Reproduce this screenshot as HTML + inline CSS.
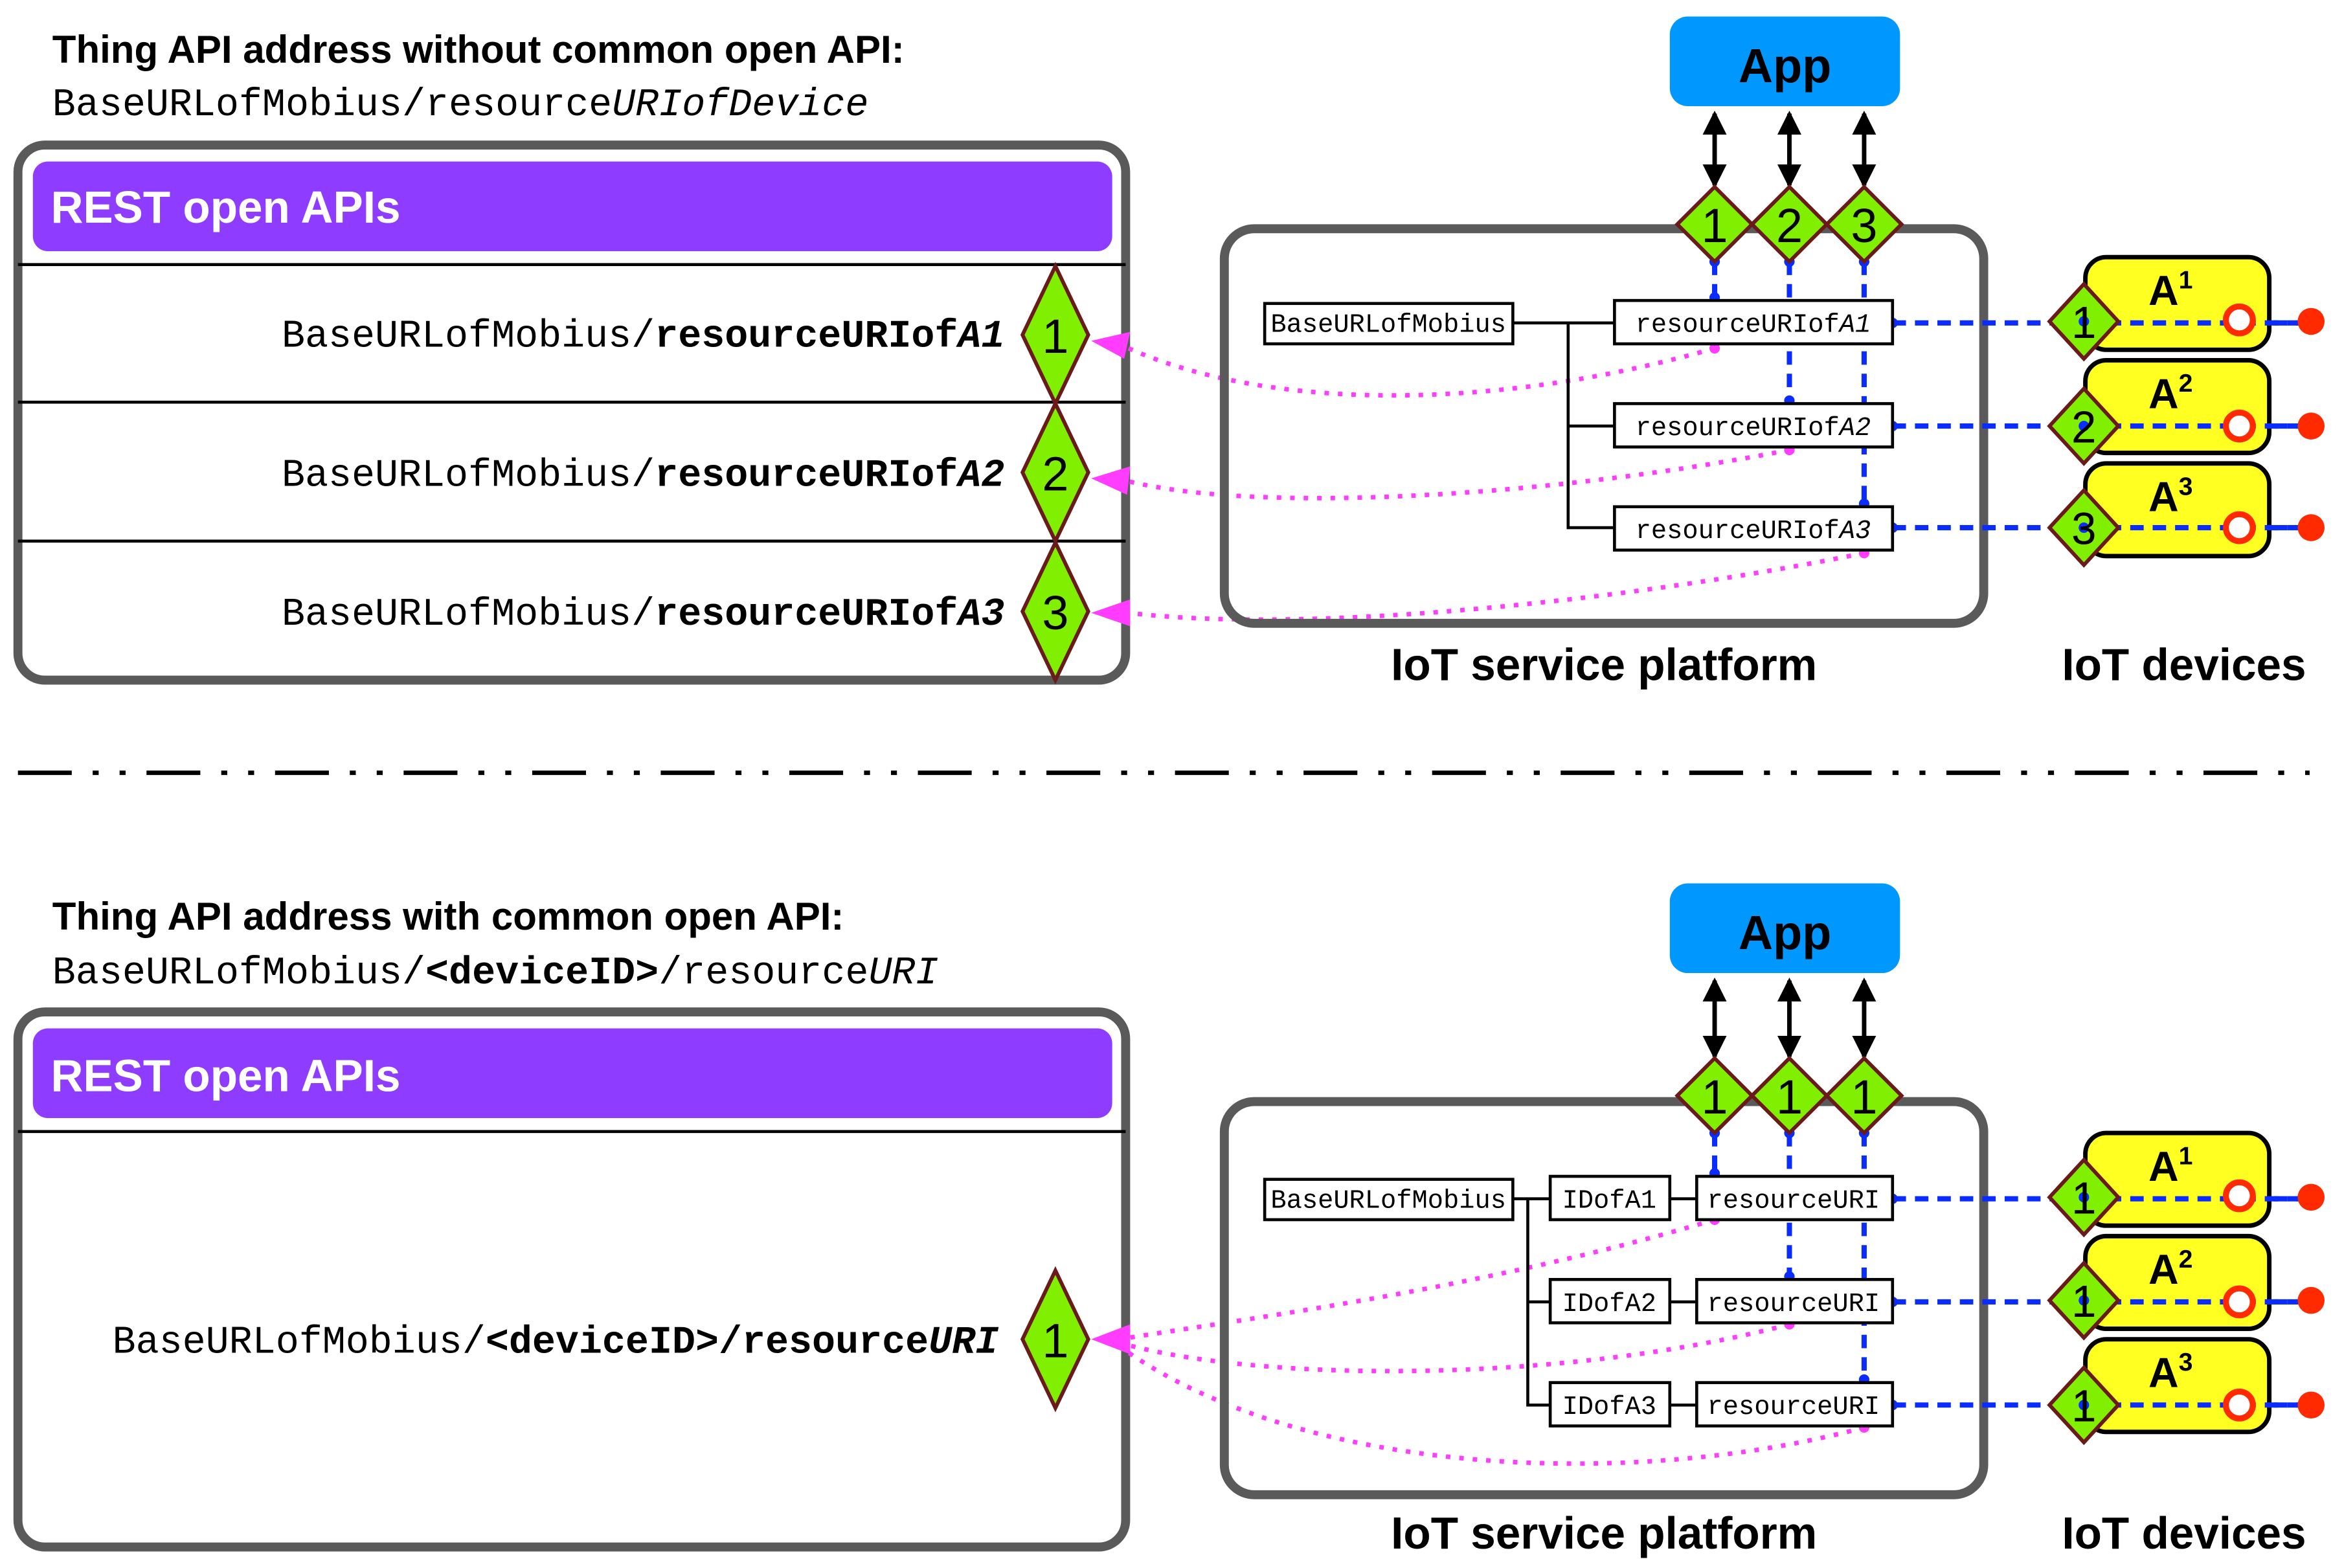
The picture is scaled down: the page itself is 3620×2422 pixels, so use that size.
<!DOCTYPE html>
<html><head><meta charset="utf-8"><style>
html,body{margin:0;padding:0;background:#fff}
svg{display:block}
.t{font-family:"Liberation Sans",sans-serif;font-weight:bold}
.m{font-family:"Liberation Mono",monospace}
</style></head><body>
<svg width="3620" height="2422" viewBox="0 0 1568 1049" xmlns="http://www.w3.org/2000/svg">
<defs>
<marker id="ka" markerWidth="16" markerHeight="16" refX="14" refY="8" orient="auto" markerUnits="userSpaceOnUse"><path d="M0,0 L16,8 L0,16 z" fill="#000"/></marker>
<marker id="kb" markerWidth="16" markerHeight="16" refX="2" refY="8" orient="auto" markerUnits="userSpaceOnUse"><path d="M16,0 L0,8 L16,16 z" fill="#000"/></marker>
</defs>

<g id="top">
<text x="35" y="42" class="t" font-size="26">Thing API address without common open API:</text>
<text x="35" y="77" class="m" font-size="26">BaseURLofMobius/resource<tspan font-style="italic">URIofDevice</tspan></text>
<rect x="12" y="97" width="741" height="358" rx="18" fill="none" stroke="#5a5a5a" stroke-width="6"/>
<rect x="22" y="108" width="722" height="60" rx="10" fill="#8e3cff"/>
<text x="34" y="149" class="t" font-size="30" fill="#fff">REST open APIs</text>
<line x1="12" y1="177" x2="753" y2="177" stroke="#000" stroke-width="2"/>
<line x1="12" y1="269" x2="753" y2="269" stroke="#000" stroke-width="2"/>
<line x1="12" y1="362" x2="753" y2="362" stroke="#000" stroke-width="2"/>
<text x="672" y="232" text-anchor="end" class="m" font-size="26">BaseURLofMobius/<tspan font-weight="bold">resourceURIof<tspan font-style="italic">A1</tspan></tspan></text>
<text x="672" y="325" text-anchor="end" class="m" font-size="26">BaseURLofMobius/<tspan font-weight="bold">resourceURIof<tspan font-style="italic">A2</tspan></tspan></text>
<text x="672" y="418" text-anchor="end" class="m" font-size="26">BaseURLofMobius/<tspan font-weight="bold">resourceURIof<tspan font-style="italic">A3</tspan></tspan></text>
</g>

<g id="bottom">
<text x="35" y="622" class="t" font-size="26">Thing API address with common open API:</text>
<text x="35" y="658" class="m" font-size="26">BaseURLofMobius/<tspan font-weight="bold">&lt;deviceID&gt;</tspan>/resource<tspan font-style="italic">URI</tspan></text>
<rect x="12" y="677" width="741" height="358" rx="18" fill="none" stroke="#5a5a5a" stroke-width="6"/>
<rect x="22" y="688" width="722" height="60" rx="10" fill="#8e3cff"/>
<text x="34" y="730" class="t" font-size="30" fill="#fff">REST open APIs</text>
<line x1="12" y1="757" x2="753" y2="757" stroke="#000" stroke-width="2"/>
<text x="668" y="905" text-anchor="end" class="m" font-size="26">BaseURLofMobius/<tspan font-weight="bold">&lt;deviceID&gt;/resource<tspan font-style="italic">URI</tspan></tspan></text>
</g>

<line x1="12" y1="517" x2="1545" y2="517" stroke="#000" stroke-width="3" stroke-dasharray="36,14,4,14,4,14"/>

<g fill="none" stroke="#ff3cff" stroke-width="3" stroke-dasharray="3,6">
<path d="M1147,233 C1000,275 850,275 755,233"/>
<path d="M1197,301 C1050,330 850,345 755,322"/>
<path d="M1247,370 C1100,400 880,425 755,410"/>
<path d="M1147,816 C1000,860 850,880 755,895"/>
<path d="M1197,886 C1050,925 850,925 755,900"/>
<path d="M1247,955 C1100,995 880,990 755,905"/>
</g>
<g fill="#ff3cff">
<path d="M730,228 L756,222 L752,240 z"/>
<path d="M730,320 L756,312 L754,331 z"/>
<path d="M730,410 L756,401 L756,419 z"/>
<path d="M730,896 L756,886 L756,906 z"/>
<circle cx="1147" cy="233" r="3.5"/><circle cx="1197" cy="301" r="3.5"/><circle cx="1247" cy="370" r="3.5"/>
<circle cx="1147" cy="816" r="3.5"/><circle cx="1197" cy="886" r="3.5"/><circle cx="1247" cy="955" r="3.5"/></g>

<g stroke="#6b1a1a" stroke-width="2.5" fill="#80f000">
<path d="M706,178 L728,224 L706,270 L684,224 z"/>
<path d="M706,270 L728,316 L706,362 L684,316 z"/>
<path d="M706,363 L728,409 L706,455 L684,409 z"/>
<path d="M706,850 L728,896 L706,942 L684,896 z"/>
</g>
<g font-family="Liberation Sans,sans-serif" font-size="32" text-anchor="middle">
<text x="706" y="236">1</text><text x="706" y="328">2</text><text x="706" y="421">3</text><text x="706" y="908">1</text>
</g>

<g id="plat1">
<rect x="819" y="153" width="508" height="264" rx="20" fill="none" stroke="#5a5a5a" stroke-width="6"/>
<rect x="1117" y="11" width="154" height="60" rx="12" fill="#0098ff"/>
<text x="1194" y="55" text-anchor="middle" class="t" font-size="32">App</text>
<g stroke="#000" stroke-width="3"><line x1="1147" y1="76" x2="1147" y2="124" marker-end="url(#ka)" marker-start="url(#kb)"/><line x1="1197" y1="76" x2="1197" y2="124" marker-end="url(#ka)" marker-start="url(#kb)"/><line x1="1247" y1="76" x2="1247" y2="124" marker-end="url(#ka)" marker-start="url(#kb)"/></g>
<g stroke="#0a2cff" stroke-width="3.5" stroke-dasharray="9,6" fill="none">
<line x1="1147" y1="175" x2="1147" y2="201"/><line x1="1197" y1="175" x2="1197" y2="270"/><line x1="1247" y1="175" x2="1247" y2="339"/>
<line x1="1266" y1="216" x2="1546" y2="216"/><line x1="1266" y1="285" x2="1546" y2="285"/><line x1="1266" y1="353" x2="1546" y2="353"/>
</g>
<g fill="#0a2cff"><circle cx="1147" cy="175" r="3.5"/><circle cx="1147" cy="199" r="3.5"/><circle cx="1197" cy="175" r="3.5"/><circle cx="1197" cy="268" r="3.5"/><circle cx="1247" cy="175" r="3.5"/><circle cx="1247" cy="337" r="3.5"/>
<circle cx="1266" cy="216" r="3.5"/><circle cx="1266" cy="285" r="3.5"/><circle cx="1266" cy="353" r="3.5"/></g>
<g stroke="#000" stroke-width="2" fill="none"><polyline points="1012,216 1080,216"/><polyline points="1049,216 1049,353 1080,353"/><line x1="1049" y1="285" x2="1080" y2="285"/></g>
<g stroke="#000" stroke-width="2" fill="#fff">
<rect x="846" y="203" width="166" height="27"/><rect x="1080" y="201" width="186" height="29"/><rect x="1080" y="270" width="186" height="29"/><rect x="1080" y="339" width="186" height="29"/></g>
<g class="m" font-size="17.5">
<text x="850" y="222">BaseURLofMobius</text>
<text x="1094" y="222">resourceURIof<tspan font-style="italic">A1</tspan></text>
<text x="1094" y="291">resourceURIof<tspan font-style="italic">A2</tspan></text>
<text x="1094" y="360">resourceURIof<tspan font-style="italic">A3</tspan></text></g>
<g stroke="#6b1a1a" stroke-width="2.5" fill="#80f000">
<path d="M1147,125 L1172,150 L1147,175 L1122,150 z"/><path d="M1197,125 L1222,150 L1197,175 L1172,150 z"/><path d="M1247,125 L1272,150 L1247,175 L1222,150 z"/></g>
<g font-family="Liberation Sans,sans-serif" font-size="32" text-anchor="middle"><text x="1147" y="162">1</text><text x="1197" y="162">2</text><text x="1247" y="162">3</text></g>
<text x="1073" y="455" text-anchor="middle" class="t" font-size="30">IoT service platform</text>
<text x="1461" y="455" text-anchor="middle" class="t" font-size="30">IoT devices</text>
</g>

<g id="plat2">
<rect x="819" y="737" width="508" height="263" rx="20" fill="none" stroke="#5a5a5a" stroke-width="6"/>
<rect x="1117" y="591" width="154" height="60" rx="12" fill="#0098ff"/>
<text x="1194" y="635" text-anchor="middle" class="t" font-size="32">App</text>
<g stroke="#000" stroke-width="3"><line x1="1147" y1="656" x2="1147" y2="707" marker-end="url(#ka)" marker-start="url(#kb)"/><line x1="1197" y1="656" x2="1197" y2="707" marker-end="url(#ka)" marker-start="url(#kb)"/><line x1="1247" y1="656" x2="1247" y2="707" marker-end="url(#ka)" marker-start="url(#kb)"/></g>
<g stroke="#0a2cff" stroke-width="3.5" stroke-dasharray="9,6" fill="none">
<line x1="1147" y1="758" x2="1147" y2="787"/><line x1="1197" y1="758" x2="1197" y2="856"/><line x1="1247" y1="758" x2="1247" y2="925"/>
<line x1="1266" y1="802" x2="1546" y2="802"/><line x1="1266" y1="871" x2="1546" y2="871"/><line x1="1266" y1="940" x2="1546" y2="940"/>
</g>
<g fill="#0a2cff"><circle cx="1147" cy="758" r="3.5"/><circle cx="1147" cy="785" r="3.5"/><circle cx="1197" cy="758" r="3.5"/><circle cx="1197" cy="854" r="3.5"/><circle cx="1247" cy="758" r="3.5"/><circle cx="1247" cy="923" r="3.5"/>
<circle cx="1266" cy="802" r="3.5"/><circle cx="1266" cy="871" r="3.5"/><circle cx="1266" cy="940" r="3.5"/></g>
<g stroke="#000" stroke-width="2" fill="none"><line x1="1012" y1="802" x2="1037" y2="802"/><polyline points="1022,802 1022,940 1037,940"/><line x1="1022" y1="871" x2="1037" y2="871"/>
<line x1="1117" y1="802" x2="1135" y2="802"/><line x1="1117" y1="871" x2="1135" y2="871"/><line x1="1117" y1="940" x2="1135" y2="940"/></g>
<g stroke="#000" stroke-width="2" fill="#fff">
<rect x="846" y="789" width="166" height="27"/>
<rect x="1037" y="787" width="80" height="29"/><rect x="1037" y="856" width="80" height="29"/><rect x="1037" y="925" width="80" height="29"/>
<rect x="1135" y="787" width="131" height="29"/><rect x="1135" y="856" width="131" height="29"/><rect x="1135" y="925" width="131" height="29"/></g>
<g class="m" font-size="17.5">
<text x="850" y="808">BaseURLofMobius</text>
<text x="1045" y="808">IDofA1</text><text x="1045" y="877">IDofA2</text><text x="1045" y="946">IDofA3</text>
<text x="1142" y="808">resourceURI</text><text x="1142" y="877">resourceURI</text><text x="1142" y="946">resourceURI</text></g>
<g stroke="#6b1a1a" stroke-width="2.5" fill="#80f000">
<path d="M1147,708 L1172,733 L1147,758 L1122,733 z"/><path d="M1197,708 L1222,733 L1197,758 L1172,733 z"/><path d="M1247,708 L1272,733 L1247,758 L1222,733 z"/></g>
<g font-family="Liberation Sans,sans-serif" font-size="32" text-anchor="middle"><text x="1147" y="745">1</text><text x="1197" y="745">1</text><text x="1247" y="745">1</text></g>
<text x="1073" y="1036" text-anchor="middle" class="t" font-size="30">IoT service platform</text>
<text x="1461" y="1036" text-anchor="middle" class="t" font-size="30">IoT devices</text>
</g>

<g id="devs">
<g stroke="#000" stroke-width="3" fill="#ffff22">
<rect x="1395" y="172" width="123" height="62" rx="14"/><rect x="1395" y="241" width="123" height="62" rx="14"/><rect x="1395" y="310" width="123" height="62" rx="14"/>
<rect x="1395" y="758" width="123" height="62" rx="14"/><rect x="1395" y="827" width="123" height="62" rx="14"/><rect x="1395" y="896" width="123" height="62" rx="14"/></g>
<g class="t" font-size="28" text-anchor="middle">
<text x="1452" y="204">A<tspan font-size="17" dy="-11">1</tspan></text>
<text x="1452" y="273">A<tspan font-size="17" dy="-11">2</tspan></text>
<text x="1452" y="342">A<tspan font-size="17" dy="-11">3</tspan></text>
<text x="1452" y="790">A<tspan font-size="17" dy="-11">1</tspan></text>
<text x="1452" y="859">A<tspan font-size="17" dy="-11">2</tspan></text>
<text x="1452" y="928">A<tspan font-size="17" dy="-11">3</tspan></text></g>
<g stroke="#0a2cff" stroke-width="3.5" stroke-dasharray="9,6">
<line x1="1395" y1="216" x2="1546" y2="216"/><line x1="1395" y1="285" x2="1546" y2="285"/><line x1="1395" y1="353" x2="1546" y2="353"/>
<line x1="1395" y1="802" x2="1546" y2="802"/><line x1="1395" y1="871" x2="1546" y2="871"/><line x1="1395" y1="940" x2="1546" y2="940"/></g>
<g stroke="#ff2a00" stroke-width="4" fill="#fff">
<circle cx="1498" cy="214" r="9"/><circle cx="1498" cy="285" r="9"/><circle cx="1498" cy="353" r="9"/>
<circle cx="1498" cy="800" r="9"/><circle cx="1498" cy="871" r="9"/><circle cx="1498" cy="940" r="9"/></g>
<g fill="#ff2a00">
<circle cx="1546" cy="215" r="9"/><circle cx="1546" cy="285" r="9"/><circle cx="1546" cy="353" r="9"/>
<circle cx="1546" cy="801" r="9"/><circle cx="1546" cy="870" r="9"/><circle cx="1546" cy="940" r="9"/></g>
<g stroke="#6b1a1a" stroke-width="2.5" fill="#80f000">
<path d="M1394,190 L1417,215 L1394,240 L1371,215 z"/><path d="M1394,260 L1417,285 L1394,310 L1371,285 z"/><path d="M1394,328 L1417,353 L1394,378 L1371,353 z"/>
<path d="M1394,776 L1417,801 L1394,826 L1371,801 z"/><path d="M1394,845 L1417,870 L1394,895 L1371,870 z"/><path d="M1394,915 L1417,940 L1394,965 L1371,940 z"/></g>
<g fill="#0a2cff"><circle cx="1394" cy="215" r="3.5"/><circle cx="1394" cy="285" r="3.5"/><circle cx="1394" cy="353" r="3.5"/><circle cx="1394" cy="801" r="3.5"/><circle cx="1394" cy="870" r="3.5"/><circle cx="1394" cy="940" r="3.5"/></g>
<g font-family="Liberation Sans,sans-serif" font-size="30" text-anchor="middle">
<text x="1394" y="226">1</text><text x="1394" y="296">2</text><text x="1394" y="364">3</text>
<text x="1394" y="812">1</text><text x="1394" y="881">1</text><text x="1394" y="951">1</text></g>
</g>
</svg>
</body></html>
